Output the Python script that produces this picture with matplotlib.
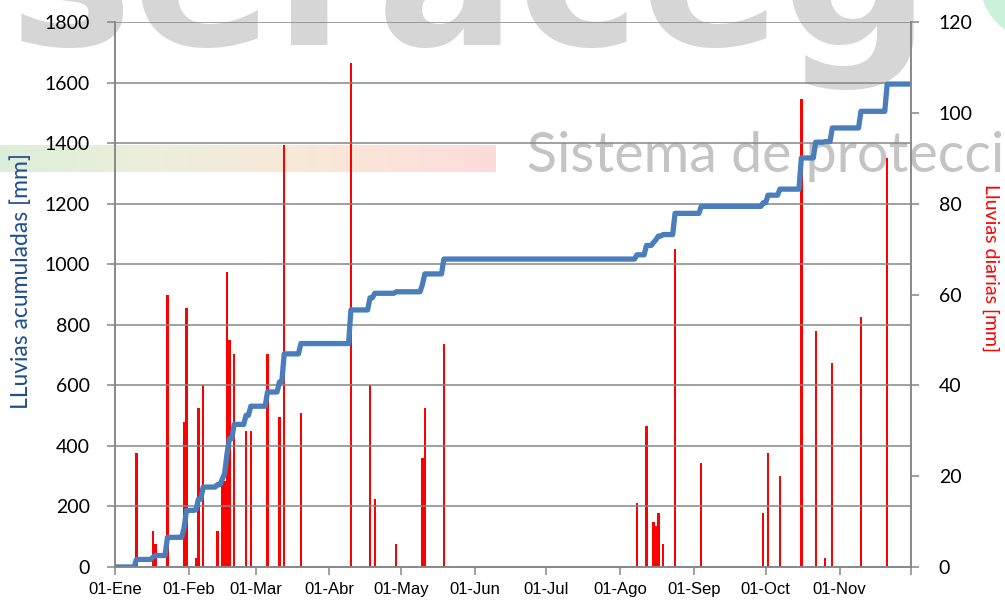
import numpy as np
import pandas as pd
import matplotlib
matplotlib.use('Agg')
import matplotlib.pyplot as plt
from matplotlib.colors import LinearSegmentedColormap
from matplotlib.patches import Circle
from matplotlib.transforms import IdentityTransform

# daily rain events (mm), everything else is 0
year = 2013
rain_dates = ['01-10', '01-17', '01-18', '01-23', '01-30', '01-31',
              '02-04', '02-05', '02-07', '02-13', '02-15', '02-16', '02-17',
              '02-18', '02-20', '02-25', '02-27',
              '03-06', '03-11', '03-13', '03-20',
              '04-10', '04-18', '04-20', '04-29',
              '05-10', '05-11', '05-19',
              '08-08', '08-12', '08-15', '08-16', '08-17', '08-19', '08-24',
              '09-04', '09-30',
              '10-02', '10-07', '10-16', '10-22', '10-26', '10-29',
              '11-10', '11-21']
rain_mm = [25, 8, 5, 60, 32, 57,
           2, 35, 40, 8, 18, 19, 65,
           50, 47, 30, 30,
           47, 33, 93, 34,
           111, 40, 15, 5,
           24, 35, 49,
           14, 31, 10, 9, 12, 5, 70,
           23, 12,
           25, 20, 103, 52, 2, 45,
           55, 90]
month_labels = ['01-Ene', '01-Feb', '01-Mar', '01-Abr', '01-May', '01-Jun',
                '01-Jul', '01-Ago', '01-Sep', '01-Oct', '01-Nov', '']

days = pd.date_range(f'{year}-01-01', f'{year}-12-01', freq='D')
daily = pd.Series(0.0, index=days)
rain_idx = pd.to_datetime([f'{year}-{d}' for d in rain_dates])
daily[rain_idx] = rain_mm
cumulative = daily.cumsum()

W, H = 1005, 601
fig = plt.figure(figsize=(W / 100, H / 100), dpi=100)

# background watermark (logo letters, gradient band, subtitle, green circle)
fig.text(8 / W, 1 - 45 / H, 'seraceg', fontsize=150, fontweight='bold',
         color='#d6d6d6', va='baseline', ha='left', zorder=-3)
gcmap = LinearSegmentedColormap.from_list('band', ['#dcefd9', '#eeeedc', '#fae7d7', '#fddcdc'])
gax = fig.add_axes([0, 1 - 172 / H, 495 / W, 27 / H], zorder=-2)
gax.imshow(np.linspace(0, 1, 256)[None, :], cmap=gcmap, aspect='auto')
gax.axis('off')
fig.text(527 / W, 1 - 172 / H, 'Sistema de protección', fontsize=40, family='Lato',
         color='#c4c4c4', va='baseline', ha='left', zorder=-1)
fig.patches.append(Circle((1040, H + 20), 60, transform=IdentityTransform(),
                          color='#caf2da', zorder=-3))

ax = fig.add_axes([115 / W, 1 - 567 / H, 796 / W, 545 / H])
ax2 = ax.twinx()
ax.set_zorder(ax2.get_zorder() + 1)
ax.patch.set_visible(False)
ax2.patch.set_visible(False)

ax2.bar(rain_idx, rain_mm, width=0.95, color='red', edgecolor='none')
ax.plot(days, cumulative, color='#4a7ebb', lw=3.8, solid_joinstyle='round')

grey = '#868686'
ax.set_ylim(0, 1800)
ax.set_yticks(range(0, 1801, 200))
ax2.set_ylim(0, 120)
ax2.set_yticks(range(0, 121, 20))
ax.grid(axis='y', color=grey, lw=1.1)
ax.set_xlim(days[0], days[-1])
ticks = pd.date_range(f'{year}-01-01', f'{year}-12-01', freq='MS')
ax.set_xticks(ticks)
ax.set_xticklabels(month_labels)

for a in (ax, ax2):
    for s in a.spines.values():
        s.set_color(grey)
        s.set_linewidth(1.1)
    a.spines['top'].set_visible(False)
ax.tick_params(axis='y', length=6, color=grey, width=1.1, pad=12,
               labelsize=14, labelfontfamily='Lato')
ax2.tick_params(axis='y', length=6, color=grey, width=1.1, pad=14,
                labelsize=14, labelfontfamily='Lato')
ax.tick_params(axis='x', length=6, color=grey, width=1.1, pad=5,
               labelsize=12, labelfontfamily='Liberation Sans')

fig.text(21 / W, 1 - 281 / H, 'LLuvias acumuladas [mm]', rotation=90, color='#1f4e8c',
         fontsize=16.5, family='Lato', ha='center', va='center')
fig.text(991 / W, 1 - 268 / H, 'Lluvias diarias [mm]', rotation=270, color='red',
         fontsize=14, family='Lato', ha='center', va='center')

fig.savefig('out.png', dpi=100)
